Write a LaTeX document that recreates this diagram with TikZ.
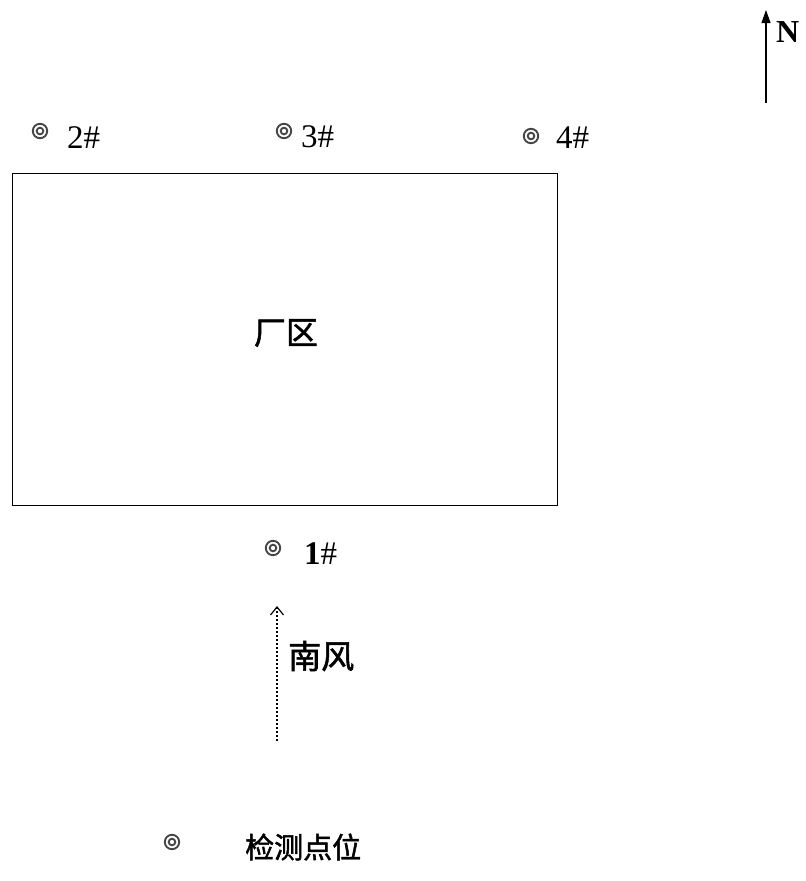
\documentclass[tikz,border=0pt]{standalone}
\usepackage{fontspec}
\setmainfont{Liberation Serif}
\newfontfamily\cjk{Noto Sans CJK SC}
\newfontfamily\cjkb[FakeBold=1.6]{Noto Sans CJK SC}
\usetikzlibrary{arrows.meta}
\tikzset{
  ptmark/.style={circle,minimum size=0pt,inner sep=0pt},
  lbl/.style={anchor=west,inner sep=0pt,font=\fontsize{33}{36}\selectfont},
  cjktxt/.style={inner sep=0pt,font=\fontsize{33}{36}\cjkb},
  ring/.style={gray!55!black,line width=1.9pt},
}
\newcommand{\ringmark}[2]{%
  \node[ptmark] (#1) at #2 {};
  \draw[ring] #2 circle (7.2pt);
  \draw[ring] #2 circle (3.3pt);
}
\begin{document}
\begin{tikzpicture}[x=1pt,y=1pt]
\useasboundingbox (0,0) rectangle (806,-881);
% factory
\node[draw,line width=1pt,minimum width=545pt,minimum height=332pt,inner sep=0pt,anchor=north west] (plant) at (12,-173) {};
\node[inner sep=0pt,font=\fontsize{32}{34}\cjkb] (plantlbl) at (286,-333) {厂区};
% points
\ringmark{p2}{(40,-131)}
\node[lbl] (t2) at (67,-138) {2\#};
\ringmark{p3}{(284,-131)}
\node[lbl] (t3) at (301,-137) {3\#};
\ringmark{p4}{(531,-136)}
\node[lbl] (t4) at (556,-138) {4\#};
\ringmark{p1}{(273,-548)}
\node[lbl] (t1) at (304,-554) {\textbf{1}\#};
% north arrow
\coordinate (nS) at (766,-103);
\coordinate (nE) at (766,-10);
\draw[line width=1.1pt,-{Triangle[length=13pt,width=9pt]}] (nS) -- (nE);
\node[anchor=west,inner sep=0pt,font=\fontsize{32}{34}\selectfont\bfseries] (N) at (776,-32) {N};
% wind arrow
\coordinate (wS) at (277,-741);
\coordinate (wE) at (277,-606);
\draw[line width=1.3pt,dash pattern=on 2.5pt off 1.5pt,-{Straight Barb[length=8pt,width=13pt,line width=1.2pt]}] (wS) -- (wE);
\node[cjktxt,anchor=west] (wind) at (288,-656) {南风};
% legend
\ringmark{lg}{(172,-842)}
\node[inner sep=0pt,font=\fontsize{29}{32}\cjkb,anchor=west] (lgt) at (245,-847) {检测点位};
\end{tikzpicture}
\end{document}
